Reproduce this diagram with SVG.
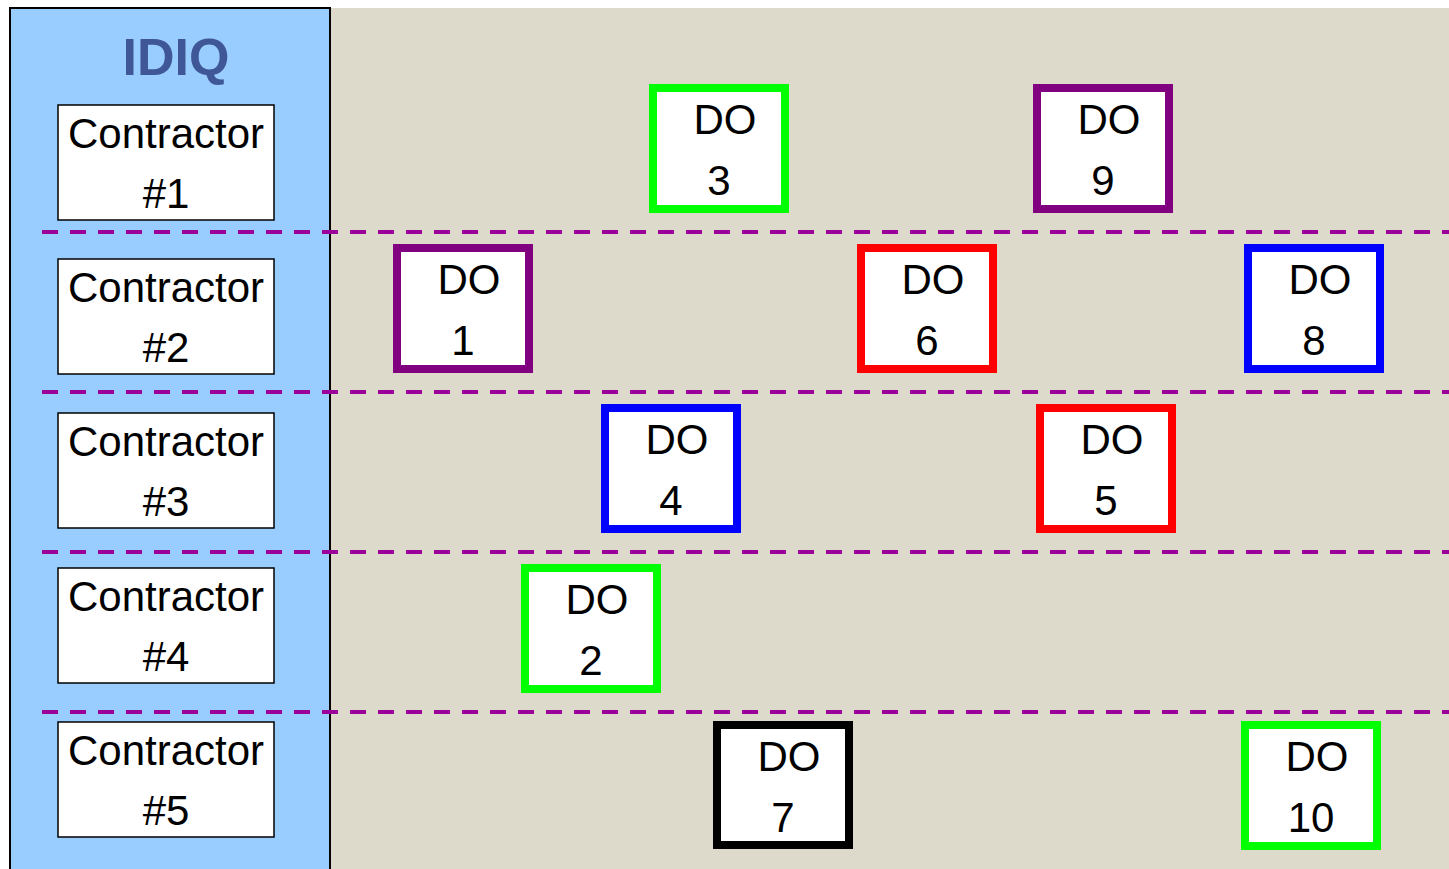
<svg xmlns="http://www.w3.org/2000/svg" width="1449" height="869" viewBox="0 0 1449 869">
<style>
text{font-family:"Liberation Sans",Arial,sans-serif;fill:#000;text-anchor:middle}
.lbl{font-size:42px}
.c{fill:#fff;stroke:#000;stroke-width:1.5}
.do{fill:#fff;stroke-width:8}
.sep{stroke:#990099;stroke-width:4;stroke-dasharray:16 12;fill:none}
</style>
<rect x="0" y="0" width="1449" height="869" fill="#fff"/>
<rect x="331" y="8" width="1118" height="861" fill="#DDDACB"/>
<rect id="idiq-panel" x="10" y="8" width="320" height="870" fill="#99CCFF" stroke="#000" stroke-width="2"/>
<text x="176" y="75" style="font-size:52px;font-weight:bold;fill:#3F5796">IDIQ</text>
<g id="connectors">
<line class="sep" x1="42" y1="232" x2="1449" y2="232"/>
<line class="sep" x1="42" y1="392" x2="1449" y2="392"/>
<line class="sep" x1="42" y1="552" x2="1449" y2="552"/>
<line class="sep" x1="42" y1="712" x2="1449" y2="712"/>
</g>
<g id="contractor1"><rect class="c" x="58" y="105" width="216" height="115"/><text class="lbl" x="166" y="148">Contractor</text><text class="lbl" x="166" y="208">#1</text></g>
<g id="contractor2"><rect class="c" x="58" y="259" width="216" height="115"/><text class="lbl" x="166" y="302">Contractor</text><text class="lbl" x="166" y="362">#2</text></g>
<g id="contractor3"><rect class="c" x="58" y="413" width="216" height="115"/><text class="lbl" x="166" y="456">Contractor</text><text class="lbl" x="166" y="516">#3</text></g>
<g id="contractor4"><rect class="c" x="58" y="568" width="216" height="115"/><text class="lbl" x="166" y="611">Contractor</text><text class="lbl" x="166" y="671">#4</text></g>
<g id="contractor5"><rect class="c" x="58" y="722" width="216" height="115"/><text class="lbl" x="166" y="765">Contractor</text><text class="lbl" x="166" y="825">#5</text></g>
<g id="do1"><rect class="do" stroke="#800080" x="397" y="248" width="132" height="121"/><text class="lbl" x="469" y="294">DO</text><text class="lbl" x="463" y="355">1</text></g>
<g id="do2"><rect class="do" stroke="#00FF00" x="525" y="568" width="132" height="121"/><text class="lbl" x="597" y="614">DO</text><text class="lbl" x="591" y="675">2</text></g>
<g id="do3"><rect class="do" stroke="#00FF00" x="653" y="88" width="132" height="121"/><text class="lbl" x="725" y="134">DO</text><text class="lbl" x="719" y="195">3</text></g>
<g id="do4"><rect class="do" stroke="#0000FF" x="605" y="408" width="132" height="121"/><text class="lbl" x="677" y="454">DO</text><text class="lbl" x="671" y="515">4</text></g>
<g id="do5"><rect class="do" stroke="#FF0000" x="1040" y="408" width="132" height="121"/><text class="lbl" x="1112" y="454">DO</text><text class="lbl" x="1106" y="515">5</text></g>
<g id="do6"><rect class="do" stroke="#FF0000" x="861" y="248" width="132" height="121"/><text class="lbl" x="933" y="294">DO</text><text class="lbl" x="927" y="355">6</text></g>
<g id="do7"><rect class="do" stroke="#000000" x="717" y="725" width="132" height="120"/><text class="lbl" x="789" y="771">DO</text><text class="lbl" x="783" y="832">7</text></g>
<g id="do8"><rect class="do" stroke="#0000FF" x="1248" y="248" width="132" height="121"/><text class="lbl" x="1320" y="294">DO</text><text class="lbl" x="1314" y="355">8</text></g>
<g id="do9"><rect class="do" stroke="#800080" x="1037" y="88" width="132" height="121"/><text class="lbl" x="1109" y="134">DO</text><text class="lbl" x="1103" y="195">9</text></g>
<g id="do10"><rect class="do" stroke="#00FF00" x="1245" y="725" width="132" height="121"/><text class="lbl" x="1317" y="771">DO</text><text class="lbl" x="1311" y="832">10</text></g>
</svg>
